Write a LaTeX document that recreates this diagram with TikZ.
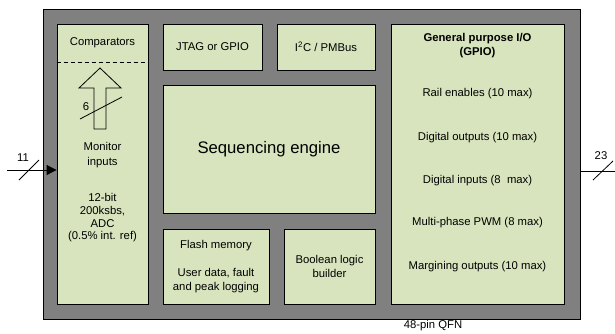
\documentclass[tikz,border=0pt]{standalone}
\usepackage{fontspec}
\setmainfont{Liberation Sans}
\usetikzlibrary{arrows.meta}
\definecolor{chipgrey}{HTML}{808080}
\definecolor{blockgreen}{HTML}{D7E4BD}
\begin{document}
\begin{tikzpicture}[x=1pt,y=-1pt,
  txt/.style={font=\fontsize{11.3}{14}\selectfont, inner sep=0pt, align=center},
  block/.style={draw=black, line width=0.8pt, fill=blockgreen, inner sep=0pt, txt},
  wire/.style={draw=black, line width=0.8pt}
]
\useasboundingbox (0,0) rectangle (615,333);
% chip outline
\node[draw=black, fill=chipgrey, line width=0.8pt, minimum width=537pt, minimum height=310pt, inner sep=0pt] (chip) at (311.5,164) {};
% blocks
\node[block, minimum width=91pt, minimum height=280pt] (mon) at (102.5,164) {};
\node[block, minimum width=99pt, minimum height=46pt] (jtag) at (212.5,47) {JTAG or GPIO};
\node[block, minimum width=98pt, minimum height=46pt] (i2c) at (326,47) {I\textsuperscript{2}C / PMBus};
\node[block, minimum width=212pt, minimum height=128pt, font=\fontsize{16.7}{20}\selectfont] (seq) at (269,149) {Sequencing engine};
\node[block, minimum width=106pt, minimum height=75pt] (flash) at (216,266.5) {Flash memory\\[14pt]User data, fault\\and peak logging};
\node[block, minimum width=91pt, minimum height=75pt] (bool) at (329.5,266.5) {Boolean logic\\builder};
\node[block, minimum width=173pt, minimum height=280pt] (gpio) at (477.5,164) {};
% monitor block contents
\node[txt] (comp) at (102.5,43) {Comparators};
\draw[wire, dash pattern=on 4pt off 3pt] (mon.west |- 0,62) -- (mon.east |- 0,62);
\draw[wire, fill=blockgreen] (100,68) -- (121,88) -- (106,88) -- (106,129) -- (94,129) -- (94,88) -- (79,88) -- cycle;
\coordinate (s6a) at (80,119);
\coordinate (s6b) at (122,97);
\draw[wire] (s6a) -- (s6b);
\node[txt] (six) at (86,107) {6};
\node[txt, font=\fontsize{11.3}{15}\selectfont] (moninp) at (102.5,155.5) {Monitor\\inputs};
\node[txt, font=\fontsize{11.3}{12.7}\selectfont] (adc) at (102.5,218) {12-bit\\200ksbs,\\ADC\\(0.5\% int. ref)};
% GPIO contents
\node[txt, font=\bfseries\fontsize{11.3}{14}\selectfont] (gtitle) at (477.5,46) {General purpose I/O\\(GPIO)};
\node[txt] (g1) at (477.5,94) {Rail enables (10 max)};
\node[txt] (g2) at (477.5,138) {Digital outputs (10 max)};
\node[txt] (g3) at (477.5,181) {Digital inputs (8~ max)};
\node[txt] (g4) at (477.5,223) {Multi-phase PWM (8 max)};
\node[txt] (g5) at (477.5,267) {Margining outputs (10 max)};
% input bus
\coordinate (inL) at (7,170);
\draw[wire, -{Triangle[length=10pt,width=10pt]}] (inL) -- (inL -| mon.west);
\coordinate (s11a) at (19,180);
\coordinate (s11b) at (39,160);
\draw[wire] (s11a) -- (s11b);
\node[txt] (eleven) at (23,157.5) {11};
% output bus
\coordinate (outR) at (615,171);
\draw[wire] (outR -| chip.east) -- (outR);
\coordinate (s23a) at (593,180);
\coordinate (s23b) at (613,161);
\draw[wire] (s23a) -- (s23b);
\node[txt] (twentythree) at (601,156) {23};
% package label
\node[txt] (pkg) at (433,326) {48-pin QFN};
\end{tikzpicture}
\end{document}
